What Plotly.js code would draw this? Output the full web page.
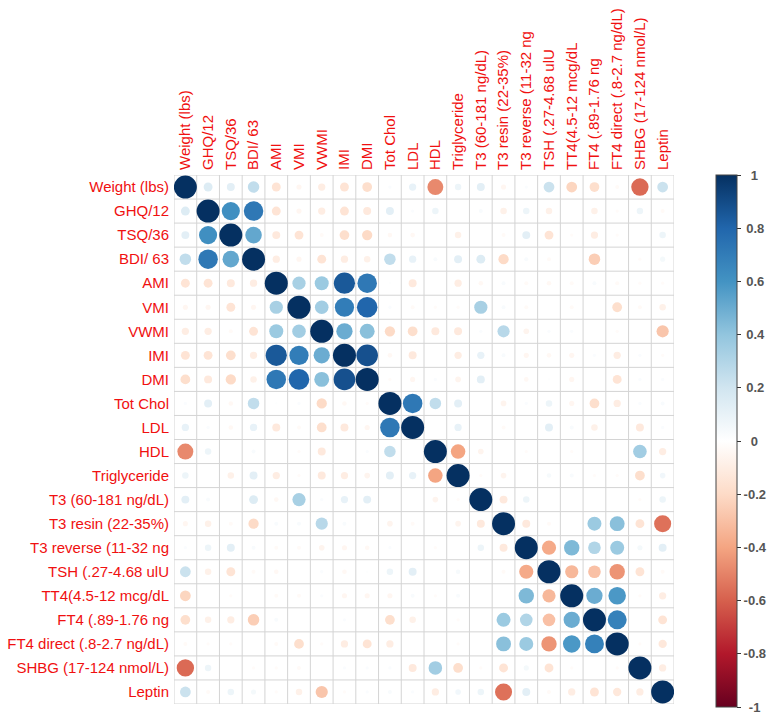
<!DOCTYPE html>
<html>
<head>
<meta charset="utf-8">
<script src="https://cdn.plot.ly/plotly-3.0.1.min.js"></script>
<style>html,body{margin:0;padding:0;background:#fff;}#chart{width:780px;height:719px;}</style>
</head>
<body>
<div id="chart"></div>
<script>
var labels = ["Weight (lbs)", "GHQ/12", "TSQ/36", "BDI/ 63", "AMI", "VMI", "VWMI", "IMI", "DMI",
  "Tot Chol", "LDL", "HDL", "Triglyceride", "T3 (60-181 ng/dL)", "T3 resin (22-35%)",
  "T3 reverse (11-32 ng", "TSH (.27-4.68 ulU", "TT4(4.5-12 mcg/dL", "FT4 (.89-1.76 ng",
  "FT4 direct (.8-2.7 ng/dL)", "SHBG (17-124 nmol/L)", "Leptin"];

var corr = [
  [1, 0.15, 0.12, 0.25, -0.15, -0.05, -0.1, -0.15, -0.18, 0.02, 0.1, -0.48, 0.08, 0.12, -0.05, 0.02, 0.22, -0.22, -0.18, -0.03, -0.57, 0.22],
  [0.15, 1, 0.62, 0.72, -0.15, -0.05, -0.1, -0.15, -0.12, 0.12, 0.02, 0.08, 0, 0.03, -0.08, 0.08, -0.08, 0, -0.08, -0.02, 0.08, -0.03],
  [0.12, 0.62, 1, 0.52, -0.12, -0.15, -0.03, -0.18, -0.2, -0.04, -0.04, 0, -0.08, 0, -0.03, 0.12, -0.15, -0.02, -0.1, -0.02, 0, 0.08],
  [0.25, 0.72, 0.52, 1, -0.1, -0.05, -0.15, -0.1, -0.08, 0.25, 0.1, 0.03, 0.12, 0.15, -0.2, 0.03, -0.03, 0, -0.25, 0, -0.02, 0.05],
  [-0.15, -0.15, -0.12, -0.1, 1, 0.33, 0.37, 0.85, 0.72, 0.01, -0.12, 0, -0.1, -0.04, 0.03, -0.03, -0.04, -0.03, 0.03, -0.03, -0.02, -0.02],
  [-0.05, -0.05, -0.15, -0.05, 0.33, 1, 0.35, 0.7, 0.8, 0.02, -0.03, -0.02, -0.02, 0.33, 0.03, -0.03, 0, -0.03, 0, -0.18, -0.03, -0.08],
  [-0.1, -0.1, -0.03, -0.15, 0.37, 0.35, 1, 0.5, 0.42, -0.2, -0.18, -0.12, -0.12, 0.02, 0.28, -0.06, 0.02, 0.02, 0, -0.02, 0, -0.28],
  [-0.15, -0.15, -0.18, -0.1, 0.85, 0.7, 0.5, 1, 0.88, -0.04, -0.12, 0, -0.1, 0.1, 0.03, -0.05, -0.04, -0.05, 0.02, -0.1, 0.02, -0.02],
  [-0.18, -0.12, -0.2, -0.08, 0.72, 0.8, 0.42, 0.88, 1, -0.02, -0.05, 0.02, -0.06, 0.12, 0, -0.04, 0.01, -0.05, 0, -0.15, 0.02, 0.02],
  [0.02, 0.12, -0.04, 0.25, 0.01, 0.02, -0.2, -0.04, -0.02, 1, 0.72, 0.25, 0.12, 0, -0.06, 0.02, 0.08, -0.05, -0.18, -0.1, 0.02, 0.03],
  [0.1, 0.02, -0.04, 0.1, -0.12, -0.03, -0.18, -0.12, -0.05, 0.72, 1, 0, 0.1, 0, -0.03, 0, 0.12, 0.03, -0.08, 0, -0.12, 0.02],
  [-0.48, 0.08, 0, 0.03, 0, -0.02, -0.12, 0, 0.02, 0.25, 0, 1, -0.4, -0.06, 0, -0.02, 0, -0.02, 0, 0, 0.35, -0.1],
  [0.08, 0, -0.08, 0.12, -0.1, -0.02, -0.12, -0.1, -0.06, 0.12, 0.1, -0.4, 1, -0.02, -0.06, 0, 0.04, 0.03, -0.02, -0.02, -0.18, 0.06],
  [0.12, 0.03, 0, 0.15, -0.04, 0.33, 0.02, 0.1, 0.12, 0, 0, -0.06, -0.02, 1, -0.12, 0.08, 0, 0, 0, 0, -0.02, 0.08],
  [-0.05, -0.08, -0.03, -0.2, 0.03, 0.03, 0.28, 0.03, 0, -0.06, -0.03, 0, -0.06, -0.12, 1, -0.12, -0.03, 0, 0.37, 0.42, -0.15, -0.55],
  [0.02, 0.08, 0.12, 0.03, -0.03, -0.03, -0.06, -0.05, -0.04, 0.02, 0, -0.02, 0, 0.08, -0.12, 1, -0.38, 0.45, 0.3, 0.37, 0.05, 0.12],
  [0.22, -0.08, -0.15, -0.03, -0.04, 0, 0.02, -0.04, 0.01, 0.08, 0.12, 0, 0.04, 0, -0.03, -0.38, 1, -0.33, -0.3, -0.45, -0.15, -0.03],
  [-0.22, 0, -0.02, 0, -0.03, -0.03, 0.02, -0.05, -0.05, -0.05, 0.03, -0.02, 0.03, 0, 0, 0.45, -0.33, 1, 0.5, 0.58, -0.02, -0.1],
  [-0.18, -0.08, -0.1, -0.25, 0.03, 0, 0, 0.02, 0, -0.18, -0.08, 0, -0.02, 0, 0.37, 0.3, -0.3, 0.5, 1, 0.68, 0, -0.15],
  [-0.03, -0.02, -0.02, 0, -0.03, -0.18, -0.02, -0.1, -0.15, -0.1, 0, 0, -0.02, 0, 0.42, 0.37, -0.45, 0.58, 0.68, 1, -0.02, -0.13],
  [-0.57, 0.08, 0, -0.02, -0.02, -0.03, 0, 0.02, 0.02, 0.02, -0.12, 0.35, -0.18, -0.02, -0.15, 0.05, -0.15, -0.02, 0, -0.02, 1, -0.1],
  [0.22, -0.03, 0.08, 0.05, -0.02, -0.08, -0.28, -0.02, 0.02, 0.03, 0.02, -0.1, 0.06, 0.08, -0.55, 0.12, -0.03, -0.1, -0.15, -0.13, -0.1, 1]
];

var colorbarTicks = [1, 0.8, 0.6, 0.4, 0.2, 0, -0.2, -0.4, -0.6, -0.8, -1];
var colorbarText = ["\u2007" + "1", "\u2009" + "0.8", "\u2009" + "0.6", "\u2009" + "0.4", "\u2009" + "0.2",
  "\u2007" + "0", "-0.2", "-0.4", "-0.6", "-0.8", "\u2009\u2009" + "-1"];

var rdbu = [
  [0.0, "#67001F"], [0.1, "#B2182B"], [0.2, "#D6604D"], [0.3, "#F4A582"], [0.4, "#FDDBC7"],
  [0.5, "#FFFFFF"], [0.6, "#D1E5F0"], [0.7, "#92C5DE"], [0.8, "#4393C3"], [0.9, "#2166AC"], [1.0, "#053061"]
];

var n = labels.length;
var xs = [], ys = [], vals = [], sizes = [];
for (var i = 0; i < n; i++) {
  for (var j = 0; j < n; j++) {
    xs.push(j); ys.push(i);
    vals.push(corr[i][j]);
    sizes.push(23 * Math.sqrt(Math.abs(corr[i][j])));
  }
}
var idx = labels.map(function(_, k){ return k; });

var shapes = [];
for (var k = 0; k <= n; k++) {
  shapes.push({type: "line", xref: "x", yref: "y", x0: k - 0.5, x1: k - 0.5, y0: -0.5, y1: n - 0.5,
    line: {color: "#d4d4d4", width: 1}, layer: "below"});
  shapes.push({type: "line", xref: "x", yref: "y", y0: k - 0.5, y1: k - 0.5, x0: -0.5, x1: n - 0.5,
    line: {color: "#d4d4d4", width: 1}, layer: "below"});
}

var trace = {
  type: "scatter", mode: "markers", x: xs, y: ys,
  hoverinfo: "skip",
  marker: {
    size: sizes, sizemode: "diameter", opacity: 1,
    color: vals, colorscale: rdbu, cmin: -1, cmax: 1,
    line: {width: 0},
    showscale: true,
    colorbar: {
      x: 1.0835, xanchor: "left", xpad: 0, y: 1.0, yanchor: "top", ypad: 0,
      len: 1.006, lenmode: "fraction", thickness: 21,
      tickvals: colorbarTicks, ticktext: colorbarText,
      ticks: "outside", ticklen: 4, tickwidth: 1, tickcolor: "#333",
      outlinecolor: "#444", outlinewidth: 1,
      tickfont: {family: "Liberation Sans, Arial, sans-serif", size: 13, color: "#555", weight: "bold"}
    }
  }
};

var lblFont = {family: "Liberation Sans, Arial, sans-serif", size: 15, color: "#F01010"};
var layout = {
  width: 780, height: 719,
  margin: {l: 174, r: 67, t: 175, b: 13, pad: 0},
  paper_bgcolor: "#fff", plot_bgcolor: "#fff",
  showlegend: false,
  xaxis: {range: [-0.5, n - 0.5], side: "top", tickvals: idx, ticktext: labels, tickangle: -90,
    tickfont: lblFont, showgrid: false, zeroline: false, showline: false, ticks: "", ticklabelstandoff: 4,
    automargin: false, fixedrange: true},
  yaxis: {range: [n - 0.5, -0.5], tickvals: idx, ticktext: labels, tickfont: lblFont, ticklabelstandoff: 4,
    showgrid: false, zeroline: false, showline: false, ticks: "", automargin: false, fixedrange: true},
  shapes: shapes
};

Plotly.newPlot("chart", [trace], layout, {displayModeBar: false, staticPlot: true});
</script>
</body>
</html>
